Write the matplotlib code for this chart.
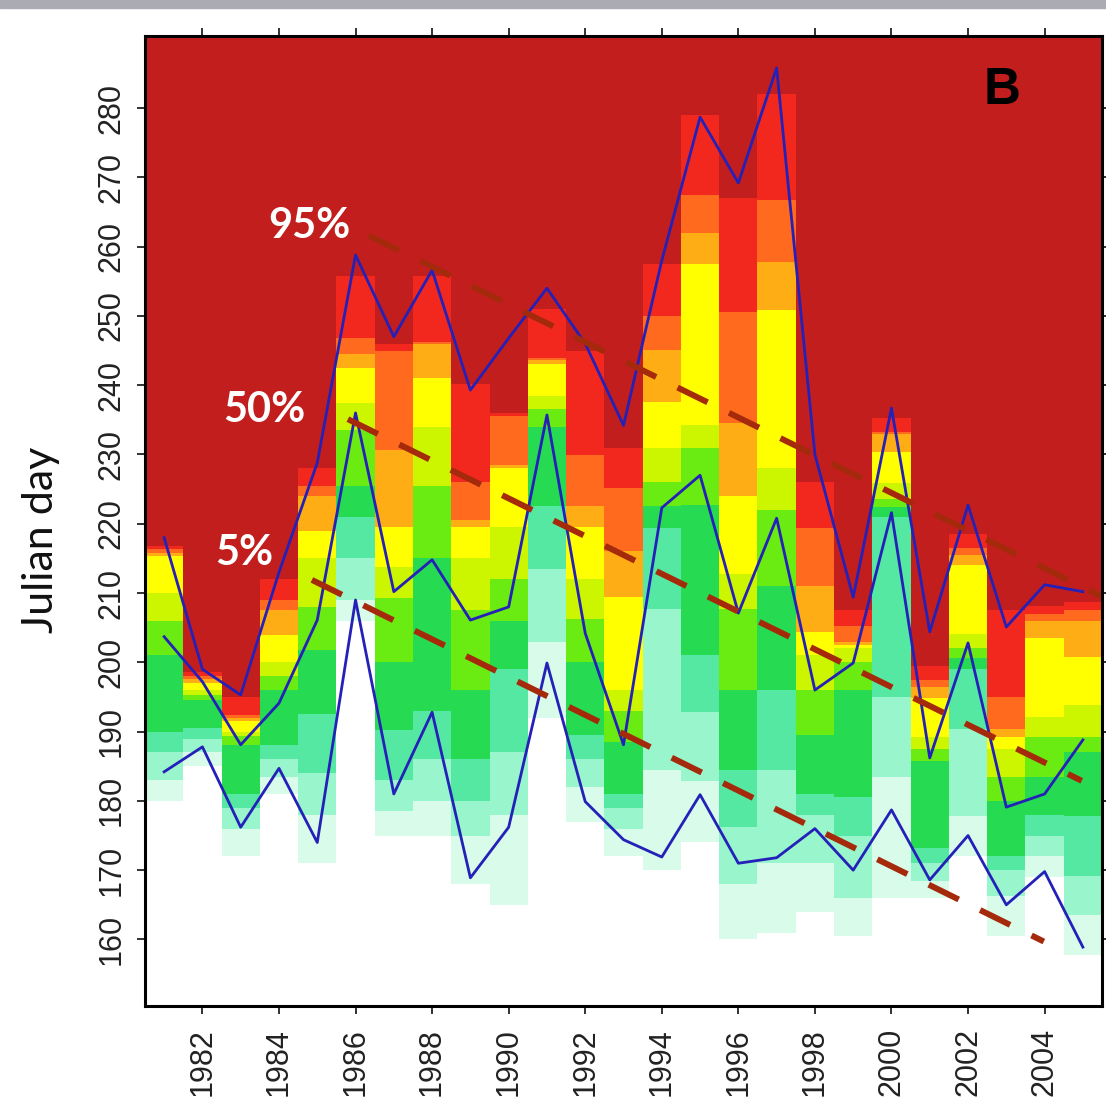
import matplotlib
matplotlib.use('Agg')
import matplotlib.pyplot as plt
from matplotlib.patches import Rectangle

years = list(range(1981, 2006))

# percentile lines (Julian day)
p95 = [218, 199, 195.3, 213, 228.8, 258.8, 247, 256.6, 239.3, 246.8, 254, 246, 234.2, 258,
       278.7, 269.2, 285.8, 230, 209.4, 236.7, 204.4, 222.7, 205.1, 211.2, 210.2]
p50 = [203.7, 197.2, 188.1, 194.1, 206.1, 236, 210.2, 214.8, 206.1, 208, 235.7, 204.2, 188.1,
       222.3, 227, 207.1, 220.8, 196, 199.9, 221.6, 186.2, 202.8, 179.1, 181, 188.8]
p5 = [184.2, 187.8, 176.2, 184.7, 174, 209, 181, 192.8, 168.9, 176.2, 199.9, 179.9, 174.4,
      171.9, 180.9, 171, 171.8, 176, 170, 178.7, 168.6, 175, 165, 169.8, 158.9]

# day where each colour band starts in every year column (white below the first one)
pale_from = [180, 185, 172, 181, 171, 206, 175, 175, 168, 165, 192, 177, 172, 170, 174, 160,
             161, 164, 160.5, 166, 166, 172, 160.5, 169, 157.7]
aqua_from = [183, 187, 176, 183.5, 178, 209, 178.5, 180, 175, 178, 203, 182, 176, 184.5, 182.9,
             168, 171, 171, 166, 183.5, 168.5, 177.8, 166.3, 172, 163.5]
mint_from = [187, 189, 179, 186, 184, 215, 183, 186, 180, 187, 213.5, 186, 179, 207.7, 192.8,
             176.2, 184.5, 178, 175, 195, 171, 190.4, 170, 175, 169.2]
green_from = [190, 190.5, 181, 188, 192.6, 221, 190.2, 193, 186, 199, 222.5, 189.5, 181, 219.4,
              201, 184.5, 196, 181, 180.6, 221, 173.2, 199, 172, 178, 177.8]
bright_from = [201, 194.5, 188, 196, 201.8, 225.5, 200, 215, 196, 206, 234, 200, 188.5, 222.5,
               222.7, 196, 211, 189.5, 196, 222.4, 185.8, 200.6, 180, 183.5, 187]
ygreen_from = [206, 195.3, 189.3, 198, 208, 233.5, 209.3, 225.5, 207.5, 212, 236.5, 206.3, 193,
               226, 231, 207.7, 222, 196, 200, 223.6, 187.5, 202, 183.5, 189.2, 189.2]
yellow_from = [210, 196, 190, 200, 215, 237.5, 213.7, 234, 215, 219.5, 238.5, 212, 196, 231,
               234.3, 212.7, 228, 201, 202, 225.9, 189.2, 204.1, 187.5, 192.1, 193.8]
amber_from = [215.3, 197, 191.6, 204, 219, 242.5, 219.6, 241, 219.6, 228, 243, 219.6, 209.4,
              237.6, 257.5, 224, 250.8, 204.4, 202.5, 230.4, 194.9, 214, 189.2, 203.5, 200.7]
orange_from = [215.8, 197.6, 192, 207.5, 224, 244.5, 230.6, 246, 220.5, 228.5, 243.7, 222.5, 216,
               245.1, 262, 234.5, 257.8, 211, 203, 233, 196.5, 215.5, 190.4, 206, 206]
red_from = [216.3, 198.1, 192.4, 209, 225.5, 246.8, 245, 246.3, 226, 235.5, 244, 229.9, 225.2,
            250, 267.5, 250.5, 266.7, 219.4, 205.3, 233.3, 197.5, 216.5, 195, 207, 207.5]
darkred_from = [216.8, 198.6, 195, 212, 228, 255.7, 246, 255.7, 240.2, 236, 251, 245, 231, 257.5,
                279, 267, 282, 226, 207.5, 235.3, 199.5, 218.5, 207.5, 208.1, 208.7]

band_colors = ['#ffffff', '#d8fbea', '#98f5cc', '#55e8a2', '#26da52', '#6aeb12', '#cbf600',
               '#ffff00', '#ffad14', '#ff6a1e', '#f2281e', '#c21e1e']

# dashed trend lines (end points)
trend95_x, trend95_y = [1986.35, 2005.5], [261.6, 209.5]
trend50_x, trend50_y = [1985.8, 2004.97], [235.1, 182.9]
trend5_x, trend5_y = [1984.86, 2003.98], [211.9, 159.7]

ymin, ymax = 150.4, 290.4

fig = plt.figure(figsize=(11.06, 11.09), dpi=100)
ax = fig.add_axes([0.1311, 0.0929, 0.8653, 0.8746])

starts = [pale_from, aqua_from, mint_from, green_from, bright_from, ygreen_from,
          yellow_from, amber_from, orange_from, red_from, darkred_from]
lows = [[ymin] * len(years)] + starts
highs = starts + [[ymax] * len(years)]
for lo, hi, c in zip(lows, highs, band_colors):
    ax.bar(years, [h - l for l, h in zip(lo, hi)], bottom=lo, width=1.0, color=c,
           linewidth=0, antialiased=False)

for vals in (p95, p50, p5):
    ax.plot(years, vals, color='#2420b8', lw=2.0, zorder=3)

for tx, ty in ((trend95_x, trend95_y), (trend50_x, trend50_y), (trend5_x, trend5_y)):
    ax.plot(tx, ty, color='#a52a0c', lw=4.3, linestyle=(0, (5.6, 4.0)),
            solid_capstyle='butt', dash_capstyle='butt', zorder=4)

lab_font = dict(color='white', fontweight='bold', family=['Lato', 'DejaVu Sans'], fontsize=30,
                ha='center', va='center', zorder=5)
ax.text(1984.79, 263.0, '95%', **lab_font)
ax.text(1983.62, 236.4, '50%', **lab_font)
ax.text(1983.09, 215.8, '5%', **lab_font)
ax.text(2002.88, 282.6, 'B', fontsize=37, fontweight='bold', family='Liberation Sans',
        ha='center', va='center', zorder=5)

ax.set_xlim(1980.5, 2005.5)
ax.set_ylim(ymin, ymax)
ax.set_xticks(range(1982, 2005, 2))
ax.set_yticks(range(160, 281, 10))
ax.tick_params(direction='out', length=6, width=1.3, top=True, right=True,
               labelsize=22, colors='#222222')
ax.tick_params(axis='x', labelrotation=90, pad=10)
ax.tick_params(axis='y', labelrotation=90, pad=7)
for lbl in ax.get_xticklabels() + ax.get_yticklabels():
    lbl.set_family('Liberation Sans')
for lbl in ax.get_yticklabels():
    lbl.set_verticalalignment('center')
for s in ax.spines.values():
    s.set_linewidth(2.2)
    s.set_zorder(6)

fig.text(0.037, 0.513, 'Julian day', rotation=90, ha='center', va='center', fontsize=31,
         family=['Lato', 'DejaVu Sans'], color='#111111')

fig.patches.append(Rectangle((0, 1 - 8 / 1109), 1, 8 / 1109, transform=fig.transFigure,
                             color='#aaabb3', zorder=0))

fig.savefig('out.png', dpi=100)
